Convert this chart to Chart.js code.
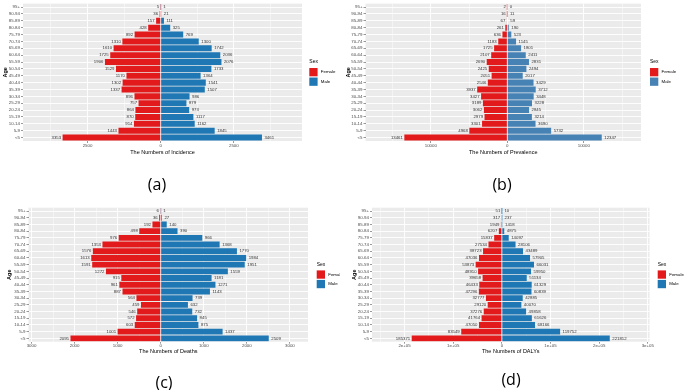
<!DOCTYPE html>
<html>
<head>
<meta charset="utf-8">
<script src="https://cdn.jsdelivr.net/npm/chart.js@4.4.1/dist/chart.umd.min.js"></script>
<style>
body { margin: 0; background: #fff; width: 685px; height: 390px; position: relative; overflow: hidden; }
canvas { position: absolute; }
.tag { position: absolute; font-family: 'Open Sans', sans-serif; font-size: 16px; line-height: 1; transform: translate(-50%, -50%); color: #000; }
</style>
</head>
<body>
<canvas id="chartA" width="340" height="195" style="left:0;top:0"></canvas>
<canvas id="chartB" width="340" height="195" style="left:345px;top:0"></canvas>
<canvas id="chartC" width="340" height="195" style="left:0;top:195px"></canvas>
<canvas id="chartD" width="340" height="195" style="left:345px;top:195px"></canvas>
<div class="tag" style="left:157px;top:184px">(a)</div>
<div class="tag" style="left:502px;top:184px">(b)</div>
<div class="tag" style="left:164px;top:382px">(c)</div>
<div class="tag" style="left:511px;top:379px">(d)</div>
<script>
// age groups, bottom (<5) to top (95+)
const ageGroups = ['<5', '5-9', '10-14', '15-19', '20-24', '25-29', '30-34', '35-39', '40-44', '45-49',
  '50-54', '55-59', '60-64', '65-69', '70-74', '75-79', '80-84', '85-89', '90-94', '95+'];

// (a) incidence
const incidenceFemale = [3353, 1443, 914, 870, 864, 757, 896, 1337, 1302, 1170, 1529, 1906, 1725, 1610, 1310, 892, 428, 157, 36, 5];
const incidenceMale = [3461, 1845, 1162, 1117, 973, 879, 986, 1507, 1541, 1364, 1733, 2076, 2036, 1742, 1300, 769, 325, 111, 21, 1];
const incidenceTicks = [-2500, 0, 2500];
const incidenceTickLabels = ['2500', '0', '2500'];
const incidenceMinor = [-3750, -1250, 1250, 3750];

// (b) prevalence
const prevalenceFemale = [13461, 4968, 3301, 2979, 3062, 3189, 3427, 3937, 2546, 2051, 2425, 2690, 2107, 1725, 1183, 636, 261, 67, 16, 2];
const prevalenceMale = [12347, 5732, 3690, 3214, 2845, 3228, 3448, 3712, 3429, 2017, 2494, 2831, 2411, 1801, 1145, 523, 190, 59, 11, 0];
const prevalenceTicks = [-10000, 0, 10000];
const prevalenceTickLabels = ['10000', '0', '10000'];
const prevalenceMinor = [-15000, -5000, 5000, 15000];

// (c) deaths
const deathsFemale = [2095, 1001, 603, 572, 546, 459, 564, 887, 961, 915, 1272, 1591, 1613, 1576, 1353, 976, 498, 192, 36, 6];
const deathsMale = [2509, 1437, 875, 845, 732, 632, 739, 1143, 1271, 1181, 1559, 1951, 1984, 1770, 1368, 966, 390, 140, 27, 1];
const deathsTicks = [-3000, -2000, -1000, 0, 1000, 2000, 3000];
const deathsTickLabels = ['3000', '2000', '1000', '0', '1000', '2000', '3000'];
const deathsMinor = [-2500, -1500, -500, 500, 1500, 2500];

// (d) DALYs
const dalysFemale = [185371, 83549, 47050, 41764, 37276, 29120, 32777, 47296, 46433, 39658, 48910, 53873, 47036, 38723, 27534, 15837, 6207, 1949, 317, 51];
const dalysMale = [221812, 119752, 68166, 61626, 49858, 40070, 42885, 60839, 61329, 51134, 59950, 66031, 57905, 43489, 28106, 14097, 4875, 1418, 237, 10];
const dalysTicks = [-200000, -100000, 0, 100000, 200000, 300000];
const dalysTickLabels = ['2e+05', '1e+05', '0', '1e+05', '2e+05', '3e+05'];
const dalysMinor = [-250000, -150000, -50000, 50000, 150000, 250000];

const FONT = "'Liberation Sans', Arial, sans-serif";
const TICK_FONT = 4.4, TITLE_FONT = 5.5;

function pyramid(id, cfg) {
  const canvas = document.getElementById(id);
  const W = canvas.width, H = canvas.height;
  const area = cfg.area;
  const titleLH = TITLE_FONT * 1.2;
  const xBottom = cfg.xTitleY + titleLH / 2;
  const tickPad = cfg.tickY - area.bottom - 2 - TICK_FONT * 1.2 / 2;
  const majorSet = new Set(cfg.ticks);

  const panelBg = {
    id: 'panelBg',
    beforeDraw(chart) {
      const a = chart.chartArea, c = chart.ctx;
      c.save();
      c.fillStyle = '#EBEBEB';
      c.fillRect(a.left, a.top, a.right - a.left, a.bottom - a.top);
      c.restore();
    }
  };

  const valueLabels = {
    id: 'valueLabels',
    afterDatasetsDraw(chart) {
      const c = chart.ctx;
      c.save();
      c.font = '4.3px ' + FONT;
      c.fillStyle = '#333';
      c.textBaseline = 'middle';
      chart.data.datasets.forEach((ds, i) => {
        chart.getDatasetMeta(i).data.forEach((bar, j) => {
          const v = ds.data[j];
          if (v < 0) { c.textAlign = 'right'; c.fillText(String(-v), bar.x - 1.5, bar.y); }
          else { c.textAlign = 'left'; c.fillText(String(v), bar.x + 2.5, bar.y); }
        });
      });
      c.restore();
    }
  };

  const sexLegend = {
    id: 'sexLegend',
    afterDraw(chart) {
      const a = chart.chartArea, c = chart.ctx;
      const x = a.right + cfg.legendDx;
      const mid = (a.top + a.bottom) / 2;
      c.save();
      c.textBaseline = 'middle';
      c.textAlign = 'left';
      c.fillStyle = '#000';
      c.font = '5px ' + FONT;
      c.fillText('Sex', x, mid - 10.3);
      const items = [['Female', '#E31A1C', mid - 4.3], ['Male', cfg.maleColor, mid + 5.2]];
      c.font = '4.4px ' + FONT;
      items.forEach(([label, col, y]) => {
        c.fillStyle = col;
        c.fillRect(x, y, 8.3, 8.3);
        c.fillStyle = '#000';
        c.fillText(label, x + 11.5, y + 4.2);
      });
      c.restore();
    }
  };

  return new Chart(canvas, {
    type: 'bar',
    data: {
      labels: ageGroups,
      datasets: [
        { label: 'Female', data: cfg.female.map(v => -v), backgroundColor: '#E31A1C' },
        { label: 'Male', data: cfg.male, backgroundColor: cfg.maleColor }
      ]
    },
    options: {
      indexAxis: 'y',
      responsive: false,
      animation: false,
      devicePixelRatio: 1,
      categoryPercentage: 0.88,
      barPercentage: 1,
      layout: { padding: { left: 0, top: area.top, right: W - area.right, bottom: H - xBottom } },
      plugins: { legend: { display: false }, tooltip: { enabled: false } },
      scales: {
        x: {
          type: 'linear',
          stacked: true,
          min: cfg.min,
          max: cfg.max,
          afterBuildTicks: s => {
            s.ticks = cfg.ticks.concat(cfg.minor).sort((p, q) => p - q).map(v => ({ value: v }));
          },
          afterFit: s => { s.height = xBottom - area.bottom; },
          border: { display: false },
          grid: {
            color: '#FFFFFF',
            lineWidth: ctx => majorSet.has(ctx.tick && ctx.tick.value) ? 0.9 : 0.45,
            tickColor: ctx => majorSet.has(ctx.tick && ctx.tick.value) ? '#333' : 'rgba(0,0,0,0)',
            tickWidth: 0.5,
            tickLength: 2
          },
          ticks: {
            autoSkip: false,
            maxRotation: 0,
            padding: tickPad,
            color: '#4D4D4D',
            font: { family: FONT, size: TICK_FONT },
            callback: v => {
              const k = cfg.ticks.indexOf(v);
              return k >= 0 ? cfg.tickLabels[k] : '';
            }
          },
          title: {
            display: true,
            text: cfg.title,
            color: '#000',
            padding: 0,
            font: { family: FONT, size: TITLE_FONT }
          }
        },
        y: {
          stacked: true,
          reverse: true,
          afterFit: s => { s.width = area.left; },
          border: { display: false },
          grid: { color: '#FFFFFF', lineWidth: 0.9, offset: false, tickColor: '#333', tickWidth: 0.5, tickLength: 2 },
          ticks: { autoSkip: false, padding: 1, color: '#4D4D4D', font: { family: FONT, size: TICK_FONT } },
          title: {
            display: true,
            text: 'Age',
            color: '#000',
            padding: { top: cfg.yTitleX - titleLH / 2, bottom: 0 },
            font: { family: FONT, size: TITLE_FONT, weight: 'bold' }
          }
        }
      }
    },
    plugins: [panelBg, valueLabels, sexLegend]
  });
}

pyramid('chartA', {
  female: incidenceFemale, male: incidenceMale, maleColor: '#1F78B4',
  min: -4706, max: 4829, ticks: incidenceTicks, tickLabels: incidenceTickLabels, minor: incidenceMinor,
  title: 'The Numbers of Incidence',
  area: { left: 23, right: 302, top: 3, bottom: 141 }, xTitleY: 152.3, tickY: 146, yTitleX: 5, legendDx: 7.3
});
pyramid('chartB', {
  female: prevalenceFemale, male: prevalenceMale, maleColor: '#4682B4',
  min: -18540, max: 17480, ticks: prevalenceTicks, tickLabels: prevalenceTickLabels, minor: prevalenceMinor,
  title: 'The Numbers of Prevalence',
  area: { left: 20.5, right: 296, top: 3, bottom: 141 }, xTitleY: 152.3, tickY: 146, yTitleX: 3.3, legendDx: 9
});
pyramid('chartC', {
  female: deathsFemale, male: deathsMale, maleColor: '#1F78B4',
  min: -3070, max: 3420, ticks: deathsTicks, tickLabels: deathsTickLabels, minor: deathsMinor,
  title: 'The Numbers of Deaths',
  area: { left: 28.5, right: 308, top: 12.7, bottom: 146.7 }, xTitleY: 156.7, tickY: 151, yTitleX: 9.3, legendDx: 8.7
});
pyramid('chartD', {
  female: dalysFemale, male: dalysMale, maleColor: '#1F78B4',
  min: -267000, max: 303500, ticks: dalysTicks, tickLabels: dalysTickLabels, minor: dalysMinor,
  title: 'The Numbers of DALYs',
  area: { left: 27, right: 304.5, top: 12.7, bottom: 146.7 }, xTitleY: 156.7, tickY: 151, yTitleX: 9.3, legendDx: 8.2
});
</script>
</body>
</html>
